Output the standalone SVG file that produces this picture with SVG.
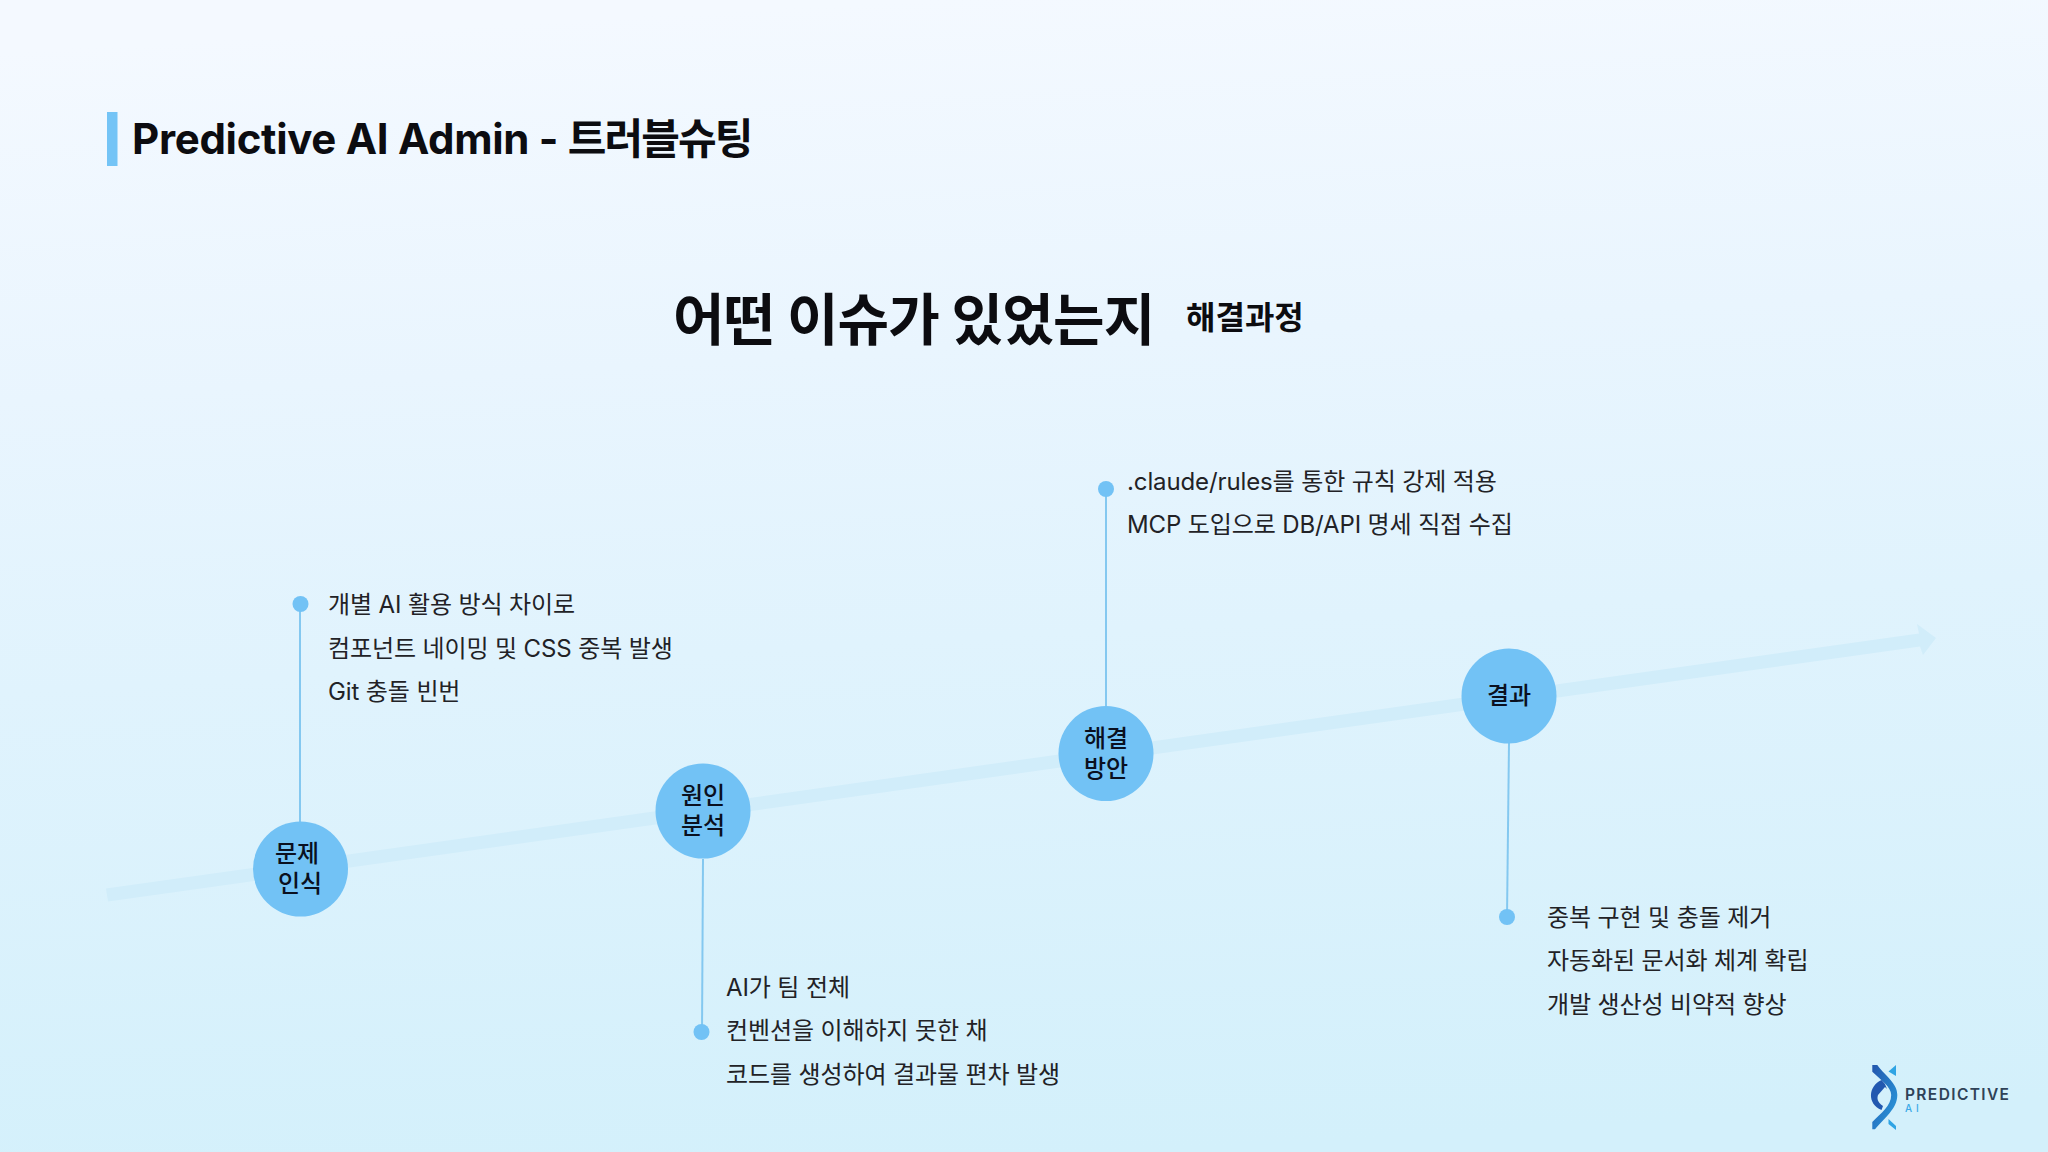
<svg xmlns="http://www.w3.org/2000/svg" width="2048" height="1152" viewBox="0 0 2048 1152">
<defs>
<linearGradient id="bg" x1="0.45" y1="0" x2="0.55" y2="1"><stop offset="0" stop-color="#f4f9ff"/><stop offset="0.3" stop-color="#e9f5fe"/><stop offset="0.55" stop-color="#e0f3fd"/><stop offset="1" stop-color="#d3f0fb"/></linearGradient>
<linearGradient id="lg1" x1="0" y1="0" x2="1" y2="1"><stop offset="0" stop-color="#2356ad"/><stop offset="1" stop-color="#2a9fe0"/></linearGradient>
</defs>
<style>
text{font-family:"Inter","Noto Sans CJK KR","Noto Sans",sans-serif;fill:#0c0c10}
.b{font-size:24px;letter-spacing:-0.12px;font-weight:400;fill:#222226}
.n{font-size:24px;font-weight:500;text-anchor:middle;fill:#0a1020}
.c{fill:#72c2f5}
.d{fill:#72c2f5}
.l{stroke:#84c8f0;stroke-width:2;fill:none}
</style>
<rect width="2048" height="1152" fill="url(#bg)"/>
<g id="header">
<rect x="107" y="112" width="10.500" height="54" fill="#74c4f6"/>
<text x="132" y="154" font-size="42" font-weight="700" letter-spacing="-0.3">Predictive AI Admin - <tspan letter-spacing="-1.9">트러블슈팅</tspan></text>
<text x="673" y="340" font-size="56" font-weight="700" letter-spacing="-0.8">어떤 이슈가 있었는지</text>
<text x="1186" y="329" font-size="32" font-weight="700" letter-spacing="0">해결과정</text>
</g>
<g id="connectors">
<path d="M106 888.500 L1919 633.500 L1917 624 L1936 638 L1923 655 L1920 646.500 L108 901.500Z" fill="#d1edfa"/>
<line class="l" x1="300" y1="604" x2="300" y2="822"/>
<line class="l" x1="703" y1="859" x2="702" y2="1032"/>
<line class="l" x1="1106" y1="488" x2="1106" y2="706"/>
<line class="l" x1="1509" y1="743" x2="1507" y2="917"/>
</g>
<g id="node-problem">
<circle class="c" cx="300.500" cy="869" r="47.500"/>
<text class="n"><tspan x="297" y="861.500">문제</tspan><tspan x="300" y="892">인식</tspan></text>
<circle class="d" cx="300.500" cy="604" r="8"/>
<text class="b"><tspan x="328" y="613">개별 AI 활용 방식 차이로</tspan><tspan x="328" y="656.500">컴포넌트 네이밍 및 CSS 중복 발생</tspan><tspan x="328" y="700">Git 충돌 빈번</tspan></text>
</g>
<g id="node-cause">
<circle class="c" cx="703" cy="811" r="47.500"/>
<text class="n"><tspan x="703" y="803.500">원인</tspan><tspan x="703" y="834">분석</tspan></text>
<circle class="d" cx="701.500" cy="1032" r="8"/>
<text class="b"><tspan x="726" y="995.500">AI가 팀 전체</tspan><tspan x="726" y="1039">컨벤션을 이해하지 못한 채</tspan><tspan x="726" y="1082.500">코드를 생성하여 결과물 편차 발생</tspan></text>
</g>
<g id="node-solution">
<circle class="c" cx="1106" cy="753.500" r="47.500"/>
<text class="n"><tspan x="1106" y="746.500">해결</tspan><tspan x="1106" y="777">방안</tspan></text>
<circle class="d" cx="1106" cy="489" r="8"/>
<text class="b"><tspan x="1127" y="490">.claude/rules를 통한 규칙 강제 적용</tspan><tspan x="1127" y="533">MCP 도입으로 DB/API 명세 직접 수집</tspan></text>
</g>
<g id="node-result">
<circle class="c" cx="1509" cy="696" r="47.500"/>
<text class="n" x="1509" y="704">결과</text>
<circle class="d" cx="1507" cy="917" r="8"/>
<text class="b"><tspan x="1547" y="926">중복 구현 및 충돌 제거</tspan><tspan x="1547" y="969">자동화된 문서화 체계 확립</tspan><tspan x="1547" y="1013">개발 생산성 비약적 향상</tspan></text>
</g>
<g id="logo">
<path d="M1872.300 1065 L1877.300 1065 C1886 1077 1897.300 1083 1897.300 1095 C1897.300 1109 1884 1118 1875 1129.300 L1872.300 1129.300 L1872.300 1122 C1881 1113 1891.200 1106 1891.200 1095 C1891.200 1087 1881 1080 1872.300 1071.700Z" fill="url(#lg1)"/>
<path d="M1896 1065 L1896 1076 L1888.500 1071.500Z" fill="#2fa4e4"/>
<path d="M1881.500 1080 C1868 1086 1867 1104 1881.500 1110 L1883 1106 C1877 1102 1877 1098 1878 1095 L1885 1087 L1887 1089 L1885 1084Z" fill="#2258b0"/>
<path d="M1888.500 1119 L1896 1126 L1896 1130 L1888.500 1124Z" fill="#2fa4e4"/>
<text x="1905" y="1100" font-size="15.500" font-weight="600" textLength="104" style="fill:#2f4258">PREDICTIVE</text>
<text x="1905" y="1112" font-size="10" font-weight="500" letter-spacing="4" style="fill:#3aa9e8">AI</text>
</g>
</svg>
